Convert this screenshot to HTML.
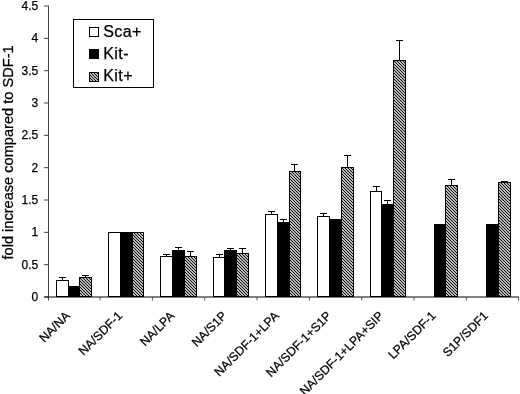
<!DOCTYPE html>
<html><head><meta charset="utf-8"><style>
html,body{margin:0;padding:0;background:#fff;}
body{width:520px;height:394px;position:relative;overflow:hidden;font-family:"Liberation Sans",sans-serif;}
svg text{font-family:"Liberation Sans",sans-serif;fill:#000;stroke:#000;stroke-width:0.25px;}
</style></head><body>
<svg width="520" height="394" viewBox="0 0 520 394" style="position:absolute;left:0;top:0;will-change:transform">
<defs><pattern id="h" patternUnits="userSpaceOnUse" x="0" y="0" width="3" height="3"><rect width="3" height="3" fill="#fff"/><polygon points="0,0 0.75,0 3,2.25 3,3 2.25,3 0,0.75" fill="#000"/><polygon points="2.25,0 3,0 3,0.75" fill="#000"/><polygon points="0,2.25 0,3 0.75,3" fill="#000"/></pattern></defs>
<path d="M48.5 5.6V297" stroke="#444" stroke-width="1" fill="none"/>
<path d="M44.0 297.00H48.5" stroke="#444" stroke-width="1"/>
<text x="38.2" y="301.00" text-anchor="end" font-size="12">0</text>
<path d="M44.0 264.67H48.5" stroke="#444" stroke-width="1"/>
<text x="38.2" y="268.67" text-anchor="end" font-size="12">0.5</text>
<path d="M44.0 232.34H48.5" stroke="#444" stroke-width="1"/>
<text x="38.2" y="236.34" text-anchor="end" font-size="12">1</text>
<path d="M44.0 200.01H48.5" stroke="#444" stroke-width="1"/>
<text x="38.2" y="204.01" text-anchor="end" font-size="12">1.5</text>
<path d="M44.0 167.68H48.5" stroke="#444" stroke-width="1"/>
<text x="38.2" y="171.68" text-anchor="end" font-size="12">2</text>
<path d="M44.0 135.35H48.5" stroke="#444" stroke-width="1"/>
<text x="38.2" y="139.35" text-anchor="end" font-size="12">2.5</text>
<path d="M44.0 103.02H48.5" stroke="#444" stroke-width="1"/>
<text x="38.2" y="107.02" text-anchor="end" font-size="12">3</text>
<path d="M44.0 70.69H48.5" stroke="#444" stroke-width="1"/>
<text x="38.2" y="74.69" text-anchor="end" font-size="12">3.5</text>
<path d="M44.0 38.36H48.5" stroke="#444" stroke-width="1"/>
<text x="38.2" y="42.36" text-anchor="end" font-size="12">4</text>
<path d="M44.0 6.03H48.5" stroke="#444" stroke-width="1"/>
<text x="38.2" y="10.03" text-anchor="end" font-size="12">4.5</text>
<path d="M44.5 297H519.09" stroke="#000" stroke-width="1"/>
<path d="M100.11 297V300.5" stroke="#555" stroke-width="1"/>
<path d="M152.42 297V300.5" stroke="#555" stroke-width="1"/>
<path d="M204.73 297V300.5" stroke="#555" stroke-width="1"/>
<path d="M257.04 297V300.5" stroke="#555" stroke-width="1"/>
<path d="M309.35 297V300.5" stroke="#555" stroke-width="1"/>
<path d="M361.66 297V300.5" stroke="#555" stroke-width="1"/>
<path d="M413.97 297V300.5" stroke="#555" stroke-width="1"/>
<path d="M466.28 297V300.5" stroke="#555" stroke-width="1"/>
<path d="M518.59 297V300.5" stroke="#555" stroke-width="1"/>
<path d="M48.5 297V300.5" stroke="#444" stroke-width="1"/>
<rect x="56.5" y="280.5" width="12" height="16.0" fill="#fff" stroke="#000" stroke-width="1"/>
<rect x="68.5" y="286.5" width="11" height="10.0" fill="#000" stroke="#000" stroke-width="1"/>
<rect x="79.5" y="277.5" width="12" height="19.0" fill="url(#h)" stroke="#000" stroke-width="1"/>
<path d="M62.5 280.5V277.5M59.0 277.5H66.0" stroke="#000" stroke-width="1" fill="none"/>
<path d="M85.5 277.5V275.5M82.0 275.5H89.0" stroke="#000" stroke-width="1" fill="none"/>
<rect x="108.5" y="232.5" width="12" height="64.0" fill="#fff" stroke="#000" stroke-width="1"/>
<rect x="120.5" y="232.5" width="12" height="64.0" fill="#000" stroke="#000" stroke-width="1"/>
<rect x="132.5" y="232.5" width="11" height="64.0" fill="url(#h)" stroke="#000" stroke-width="1"/>
<rect x="160.5" y="256.5" width="12" height="40.0" fill="#fff" stroke="#000" stroke-width="1"/>
<rect x="172.5" y="250.5" width="12" height="46.0" fill="#000" stroke="#000" stroke-width="1"/>
<rect x="184.5" y="256.5" width="12" height="40.0" fill="url(#h)" stroke="#000" stroke-width="1"/>
<path d="M166.5 256.5V254.5M163.0 254.5H170.0" stroke="#000" stroke-width="1" fill="none"/>
<path d="M178.5 250.5V247.5M175.0 247.5H182.0" stroke="#000" stroke-width="1" fill="none"/>
<path d="M190.5 256.5V251.5M187.0 251.5H194.0" stroke="#000" stroke-width="1" fill="none"/>
<rect x="213.5" y="257.5" width="11" height="39.0" fill="#fff" stroke="#000" stroke-width="1"/>
<rect x="224.5" y="250.5" width="12" height="46.0" fill="#000" stroke="#000" stroke-width="1"/>
<rect x="236.5" y="253.5" width="12" height="43.0" fill="url(#h)" stroke="#000" stroke-width="1"/>
<path d="M219.5 257.5V254.5M216.0 254.5H223.0" stroke="#000" stroke-width="1" fill="none"/>
<path d="M230.5 250.5V248.5M227.0 248.5H234.0" stroke="#000" stroke-width="1" fill="none"/>
<path d="M242.5 253.5V248.5M239.0 248.5H246.0" stroke="#000" stroke-width="1" fill="none"/>
<rect x="265.5" y="214.5" width="12" height="82.0" fill="#fff" stroke="#000" stroke-width="1"/>
<rect x="277.5" y="222.5" width="12" height="74.0" fill="#000" stroke="#000" stroke-width="1"/>
<rect x="289.5" y="171.5" width="11" height="125.0" fill="url(#h)" stroke="#000" stroke-width="1"/>
<path d="M271.5 214.5V211.5M268.0 211.5H275.0" stroke="#000" stroke-width="1" fill="none"/>
<path d="M283.5 222.5V219.5M280.0 219.5H287.0" stroke="#000" stroke-width="1" fill="none"/>
<path d="M294.5 171.5V164.5M291.0 164.5H298.0" stroke="#000" stroke-width="1" fill="none"/>
<rect x="317.5" y="216.5" width="12" height="80.0" fill="#fff" stroke="#000" stroke-width="1"/>
<rect x="329.5" y="219.5" width="12" height="77.0" fill="#000" stroke="#000" stroke-width="1"/>
<rect x="341.5" y="167.5" width="12" height="129.0" fill="url(#h)" stroke="#000" stroke-width="1"/>
<path d="M323.5 216.5V213.5M320.0 213.5H327.0" stroke="#000" stroke-width="1" fill="none"/>
<path d="M347.5 167.5V155.5M344.0 155.5H351.0" stroke="#000" stroke-width="1" fill="none"/>
<rect x="370.5" y="191.5" width="11" height="105.0" fill="#fff" stroke="#000" stroke-width="1"/>
<rect x="381.5" y="204.5" width="12" height="92.0" fill="#000" stroke="#000" stroke-width="1"/>
<rect x="393.5" y="60.5" width="12" height="236.0" fill="url(#h)" stroke="#000" stroke-width="1"/>
<path d="M376.5 191.5V186.5M373.0 186.5H380.0" stroke="#000" stroke-width="1" fill="none"/>
<path d="M387.5 204.5V200.5M384.0 200.5H391.0" stroke="#000" stroke-width="1" fill="none"/>
<path d="M399.5 60.5V40.5M396.0 40.5H403.0" stroke="#000" stroke-width="1" fill="none"/>
<rect x="434.5" y="224.5" width="11" height="72.0" fill="#000" stroke="#000" stroke-width="1"/>
<rect x="445.5" y="185.5" width="12" height="111.0" fill="url(#h)" stroke="#000" stroke-width="1"/>
<path d="M451.5 185.5V179.5M448.0 179.5H455.0" stroke="#000" stroke-width="1" fill="none"/>
<rect x="486.5" y="224.5" width="12" height="72.0" fill="#000" stroke="#000" stroke-width="1"/>
<rect x="498.5" y="182.5" width="12" height="114.0" fill="url(#h)" stroke="#000" stroke-width="1"/>
<path d="M504.5 182.5V181.5M501.0 181.5H508.0" stroke="#000" stroke-width="1" fill="none"/>
<text x="70.83" y="316.5" text-anchor="end" font-size="12.3" transform="rotate(-45 70.83 316.5)">NA/NA</text>
<text x="123.08" y="316.5" text-anchor="end" font-size="12.3" transform="rotate(-45 123.08 316.5)">NA/SDF-1</text>
<text x="175.32" y="316.5" text-anchor="end" font-size="12.3" transform="rotate(-45 175.32 316.5)">NA/LPA</text>
<text x="227.57" y="316.5" text-anchor="end" font-size="12.3" transform="rotate(-45 227.57 316.5)">NA/S1P</text>
<text x="279.82" y="316.5" text-anchor="end" font-size="12.3" transform="rotate(-45 279.82 316.5)">NA/SDF-1+LPA</text>
<text x="332.07" y="316.5" text-anchor="end" font-size="12.3" transform="rotate(-45 332.07 316.5)">NA/SDF-1+S1P</text>
<text x="384.32" y="316.5" text-anchor="end" font-size="12.3" transform="rotate(-45 384.32 316.5)">NA/SDF-1+LPA+SIP</text>
<text x="436.57" y="316.5" text-anchor="end" font-size="12.3" transform="rotate(-45 436.57 316.5)">LPA/SDF-1</text>
<text x="488.82" y="316.5" text-anchor="end" font-size="12.3" transform="rotate(-45 488.82 316.5)">S1P/SDF1</text>
<text x="12.7" y="152.45" text-anchor="middle" font-size="14.6" transform="rotate(-90 12.7 152.45)">fold increase compared to SDF-1</text>
<rect x="73.5" y="19.5" width="80" height="68" fill="#fff" stroke="#000" stroke-width="1"/>
<rect x="89.5" y="27.5" width="9" height="9" fill="#fff" stroke="#000" stroke-width="1"/>
<text x="103.2" y="36.6" font-size="16" letter-spacing="0.45">Sca+</text>
<rect x="89.5" y="49.5" width="9" height="9" fill="#000" stroke="#000" stroke-width="1"/>
<text x="103.2" y="58.5" font-size="16" letter-spacing="0.45">Kit-</text>
<rect x="89.5" y="72.5" width="9" height="9" fill="url(#h)" stroke="#000" stroke-width="1"/>
<text x="103.2" y="81.2" font-size="16" letter-spacing="0.45">Kit+</text>
</svg>
</body></html>
